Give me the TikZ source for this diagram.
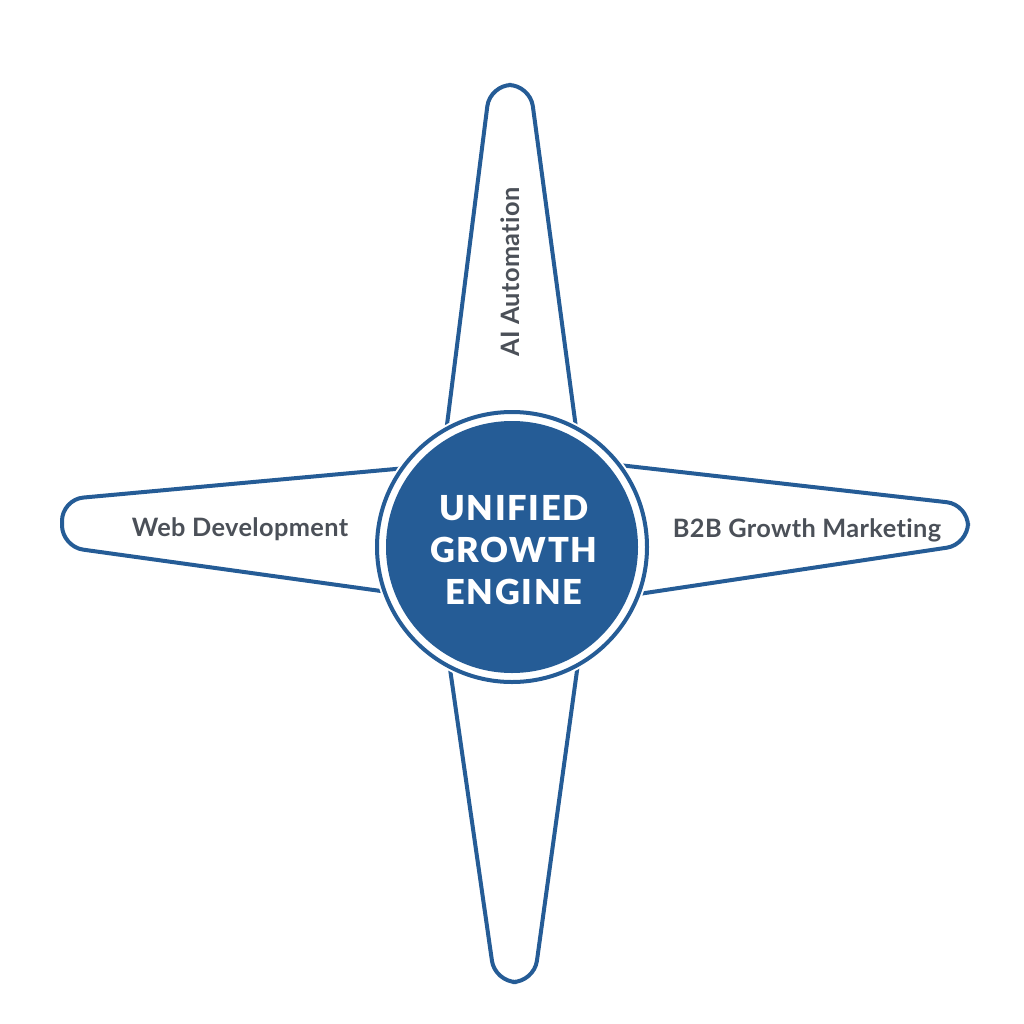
\documentclass[tikz,border=0pt]{standalone}
\usepackage{fontspec}
\setmainfont{Lato}[Ligatures=NoCommon]
\newfontfamily\coreface{Lato Black}
\definecolor{engblue}{HTML}{255C96}
\definecolor{labgray}{HTML}{4B5058}
\begin{document}
\begin{tikzpicture}[x=0.75pt,y=-0.75pt,
  arm/.style={draw=engblue,fill=white,line width=3pt,rounded corners=16pt,line join=round},
  armlabel/.style={text=labgray,font=\fontsize{19}{21}\selectfont\bfseries\addfontfeature{LetterSpace=1.5},inner sep=0pt},
  coretext/.style={text=white,font=\coreface\fontsize{25.8}{31.3}\selectfont\addfontfeature{LetterSpace=5},align=center,inner sep=0pt}]
\useasboundingbox (0,0) rectangle (1024,1024);
% arms
\draw[arm] (440,480) -- (490,85) -- (530,85) -- (583,480) -- cycle;
\draw[arm] (443,620) -- (495,982) -- (534,982) -- (584,620) -- cycle;
\draw[arm] (450,464) -- (62,499.5) -- (62,546.7) -- (450,600.6) -- cycle;
\draw[arm] (580,460.6) -- (968,504.6) -- (968,544.5) -- (580,602.8) -- cycle;
% centre
\fill[white] (512,547) circle[radius=139];
\draw[engblue,line width=3pt] (512,547) circle[radius=135];
\fill[engblue] (512,547) circle[radius=126];
\node[coretext] (core) at (514,550) {UNIFIED\\GROWTH\\ENGINE};
% labels
\node[armlabel] (web) at (240,529) {Web Development};
\node[armlabel] (b2b) at (807,530) {B2B Growth Marketing};
\node[armlabel,rotate=90] (ai) at (510,272) {AI Automation};
\end{tikzpicture}
\end{document}
